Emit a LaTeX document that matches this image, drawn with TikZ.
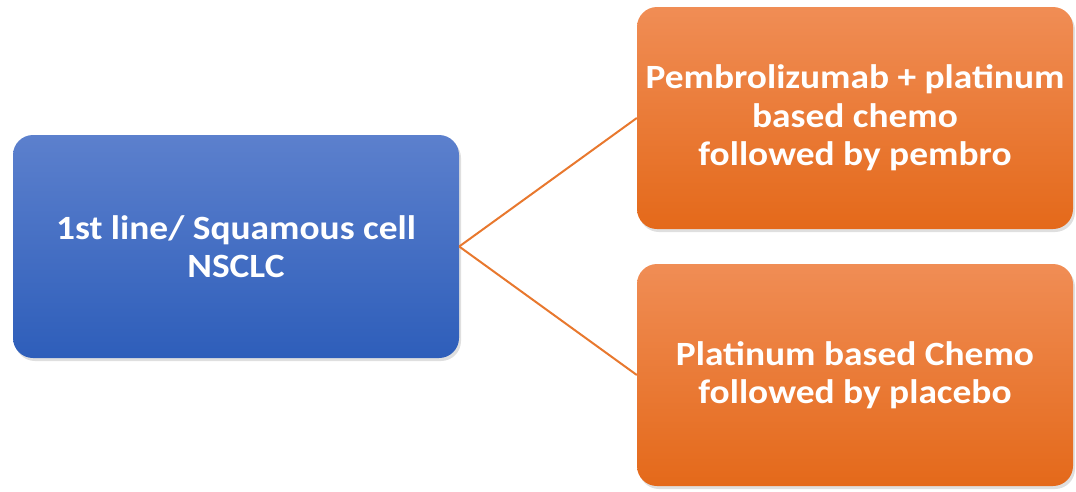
\documentclass[tikz,border=0pt]{standalone}
\usepackage{fontspec}
\setmainfont{Carlito}[FakeStretch=1.1]
\usetikzlibrary{shadows}
\definecolor{bluetop}{HTML}{5C80CD}
\definecolor{bluebot}{HTML}{2E5EBA}
\definecolor{orgtop}{HTML}{F08D55}
\definecolor{orgbot}{HTML}{E4691A}
\definecolor{linkorange}{HTML}{E8782E}
\tikzset{
  box/.style={rectangle, rounded corners=20pt, draw=none, text=white,
    align=center, font=\bfseries\fontsize{34}{38.5}\selectfont,
    drop shadow={shadow xshift=2pt, shadow yshift=-3pt, opacity=0.25}},
  bluebox/.style={box, top color=bluetop, bottom color=bluebot,
    minimum width=446pt, minimum height=223pt},
  orangebox/.style={box, top color=orgtop, bottom color=orgbot,
    minimum width=436pt, minimum height=222pt},
  link/.style={draw=linkorange, line width=2pt}
}
\begin{document}
\begin{tikzpicture}[x=1pt, y=-1pt]
  \useasboundingbox (0,0) rectangle (1076,491);
  \node[bluebox] (root) at (236,246.5) {1st line/ Squamous cell\\NSCLC};
  \node[orangebox] (armA) at (855,118) {Pembrolizumab + platinum\\based chemo\\followed by pembro};
  \node[orangebox] (armB) at (855,375) {Platinum based Chemo\\followed by placebo};
  \draw[link] (root.east) -- (armA.west);
  \draw[link] (root.east) -- (armB.west);
\end{tikzpicture}
\end{document}
